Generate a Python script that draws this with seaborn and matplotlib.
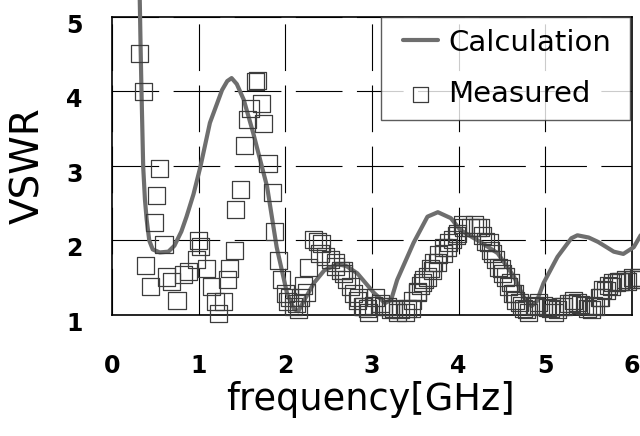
import matplotlib
matplotlib.use("Agg")
import matplotlib.pyplot as plt
import matplotlib.transforms as mtransforms
from matplotlib.lines import Line2D
from matplotlib.collections import PathCollection
from matplotlib.legend_handler import HandlerLine2D, HandlerPathCollection
import pandas as pd
import seaborn as sns

# Calculation curve
calc_freq = [0.32, 0.33, 0.34, 0.36, 0.38, 0.40, 0.43, 0.47, 0.55, 0.65, 0.72, 0.80,
             0.86, 0.94, 1.02, 1.13, 1.27, 1.33, 1.38, 1.44, 1.52, 1.63, 1.79, 1.90,
             2.02, 2.10, 2.15, 2.22, 2.33, 2.45, 2.60, 2.70, 2.83, 3.02, 3.15, 3.22,
             3.29, 3.48, 3.64, 3.76, 3.91, 4.02, 4.25, 4.45, 4.64, 4.75, 4.84, 4.90,
             4.98, 5.14, 5.30, 5.37, 5.50, 5.61, 5.79, 5.90, 6.02, 6.10]
calc_vswr = [5.25, 4.60, 4.02, 2.99, 2.55, 2.28, 2.00, 1.88, 1.84, 1.85, 1.93, 2.12,
             2.32, 2.62, 2.99, 3.58, 4.02, 4.14, 4.18, 4.10, 3.89, 3.44, 2.72, 1.91,
             1.29, 1.08, 1.05, 1.20, 1.43, 1.60, 1.68, 1.66, 1.56, 1.30, 1.16, 1.20,
             1.47, 1.97, 2.32, 2.38, 2.30, 2.14, 1.98, 1.83, 1.51, 1.24, 1.12, 1.18,
             1.43, 1.78, 2.03, 2.07, 2.04, 1.98, 1.85, 1.82, 1.91, 2.07]

# Measured points (first pass + denser second pass above 1.9 GHz)
meas_freq = [0.32, 0.36, 0.39, 0.44, 0.49, 0.51, 0.55, 0.60, 0.63, 0.69, 0.75, 0.82,
             0.88, 0.97, 1.00, 1.02, 1.09, 1.15, 1.19, 1.23, 1.29, 1.33, 1.36, 1.41,
             1.43, 1.48, 1.53, 1.56, 1.60, 1.66, 1.68, 1.72, 1.75, 1.80, 1.85, 1.87,
             1.92, 1.96, 2.00, 2.02, 2.05, 2.09, 2.13, 2.17, 2.21, 2.27, 2.33, 2.37,
             2.42, 2.46, 2.52, 2.58, 2.64, 2.67, 2.71, 2.75, 2.79, 2.83, 2.89, 2.95,
             3.02, 3.10, 3.18, 3.25, 3.33, 3.41, 3.47, 3.53, 3.58, 3.64, 3.70, 3.76,
             3.82, 3.87, 3.93, 3.99, 4.06, 4.14, 4.22, 4.28, 4.31, 4.37, 4.43, 4.49,
             4.54, 4.60, 4.64, 4.70, 4.75, 4.81, 4.89, 4.98, 5.06, 5.14, 5.21, 5.30,
             5.37, 5.45, 5.53, 5.58, 5.64, 5.70, 5.76, 5.82, 5.87, 5.95, 6.02, 6.08,
             2.15, 2.24, 2.40, 2.58, 2.67, 2.84, 2.90, 2.96, 3.04, 3.13, 3.21, 3.29,
             3.39, 3.45, 3.52, 3.56, 3.60, 3.67, 3.71, 3.77, 3.83, 3.88, 3.97, 4.05,
             4.18, 4.25, 4.35, 4.39, 4.46, 4.51, 4.58, 4.62, 4.66, 4.72, 4.78, 4.87,
             4.92, 5.02, 5.10, 5.17, 5.27, 5.33, 5.41, 5.49, 5.56, 5.62, 5.66, 5.73,
             5.78, 5.85, 5.93, 6.01, 6.07]
meas_vswr = [4.51, 4.00, 1.66, 1.38, 2.24, 2.61, 2.96, 1.94, 1.51, 1.45, 1.20, 1.54,
             1.58, 1.74, 2.00, 1.92, 1.63, 1.38, 1.18, 1.02, 1.18, 1.47, 1.63, 1.87,
             2.41, 2.69, 3.27, 3.63, 3.77, 4.13, 4.15, 3.84, 3.57, 3.04, 2.64, 2.12,
             1.73, 1.47, 1.29, 1.18, 1.23, 1.11, 1.16, 1.24, 1.40, 1.64, 2.01, 1.98,
             1.96, 1.78, 1.74, 1.65, 1.60, 1.56, 1.47, 1.38, 1.29, 1.20, 1.11, 1.09,
             1.13, 1.16, 1.11, 1.09, 1.07, 1.09, 1.20, 1.30, 1.43, 1.51, 1.60, 1.71,
             1.83, 1.91, 2.01, 2.10, 2.17, 2.18, 2.17, 2.07, 1.98, 1.87, 1.74, 1.63,
             1.51, 1.43, 1.29, 1.17, 1.09, 1.04, 1.11, 1.13, 1.09, 1.07, 1.11, 1.16,
             1.17, 1.13, 1.07, 1.11, 1.24, 1.33, 1.38, 1.43, 1.45, 1.45, 1.47, 1.47,
             1.08, 1.30, 1.83, 1.70, 1.60, 1.23, 1.11, 1.04, 1.23, 1.11, 1.07, 1.04,
             1.03, 1.09, 1.31, 1.40, 1.47, 1.63, 1.71, 1.81, 1.90, 1.97, 2.07, 2.21,
             2.21, 2.17, 1.97, 1.83, 1.64, 1.56, 1.38, 1.29, 1.20, 1.13, 1.07, 1.13,
             1.17, 1.10, 1.04, 1.11, 1.16, 1.20, 1.14, 1.09, 1.13, 1.23, 1.34, 1.40,
             1.43, 1.45, 1.47, 1.50, 1.50]

x_ticks = [0, 1, 2, 3, 4, 5, 6]
y_ticks = [1, 2, 3, 4, 5]

calc = pd.DataFrame({"freq": calc_freq, "vswr": calc_vswr})
meas = pd.DataFrame({"freq": meas_freq, "vswr": meas_vswr})

sns.set_theme(style="white")
plt.rcParams["font.family"] = ["DejaVu Sans"]
plt.rcParams["text.color"] = "black"
plt.rcParams["axes.labelcolor"] = "black"
plt.rcParams["xtick.color"] = "black"
plt.rcParams["ytick.color"] = "black"

fig = plt.figure(figsize=(6.4, 4.36), dpi=100)
ax = fig.add_axes([112 / 640, 1 - 315 / 436, 520 / 640, 298 / 436])

sns.lineplot(data=calc, x="freq", y="vswr", ax=ax, color="#6e6e6e", linewidth=3,
             label="Calculation", clip_on=False, zorder=3, sort=False)
sns.scatterplot(data=meas, x="freq", y="vswr", ax=ax, marker="s", s=150,
                facecolor="none", edgecolor="#3c3c3c", linewidth=0.9,
                label="Measured", clip_on=False, zorder=4)

ax.set_xlim(0, 6)
ax.set_ylim(1, 5)
ax.set_xticks(x_ticks)
ax.set_yticks(y_ticks)
ax.grid(True, color="black", linewidth=0.8, linestyle=(0, (42, 13)))
ax.set_axisbelow(True)
for s in ax.spines.values():
    s.set_color("black")
    s.set_linewidth(1.2)

ax.tick_params(axis="both", length=0, labelsize=17, labelcolor="black")
ax.tick_params(axis="x", pad=28)
ax.tick_params(axis="y", pad=21)
for lab in ax.get_xticklabels() + ax.get_yticklabels():
    lab.set_fontweight("bold")
shift = mtransforms.ScaledTranslation(0, -0.06, fig.dpi_scale_trans)
for lab in ax.get_yticklabels():
    lab.set_transform(lab.get_transform() + shift)

ax.set_xlabel("frequency[GHz]", fontsize=26.5)
ax.set_ylabel("VSWR", fontsize=28)
ax.xaxis.set_label_coords(0.497, -0.22)
ax.yaxis.set_label_coords(-0.125, 0.5)

hmap = {Line2D: HandlerLine2D(xpad=0.35), PathCollection: HandlerPathCollection(xpad=0.35)}
leg = ax.legend(loc="upper left", bbox_to_anchor=(269 / 520, 0, 249 / 520, 1),
                mode="expand", borderaxespad=0, fontsize=21, frameon=True,
                fancybox=False, handlelength=1.55, handletextpad=0.35,
                labelspacing=0.8, borderpad=0.4, markerscale=0.85, handler_map=hmap)
leg.get_frame().set_edgecolor("#333333")
leg.get_frame().set_linewidth(1.0)
leg.set_zorder(5)

fig.savefig("out.png", dpi=100)
